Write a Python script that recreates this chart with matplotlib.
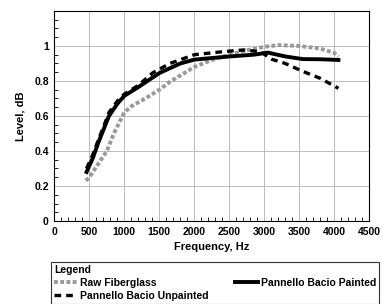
import matplotlib
matplotlib.use("Agg")
import matplotlib.pyplot as plt
from matplotlib.ticker import MultipleLocator

plt.rcParams["font.family"] = ["Liberation Sans", "DejaVu Sans"]
plt.rcParams["font.weight"] = "bold"

# Raw Fiberglass
raw_f = [450, 500, 600, 750, 850, 950, 1000, 1100, 1300, 1500, 1650, 2000, 2250,
         2500, 2750, 3000, 3200, 3500, 3800, 4000, 4060]
raw_l = [0.23, 0.25, 0.31, 0.40, 0.50, 0.58, 0.62, 0.655, 0.70, 0.75, 0.795, 0.88,
         0.92, 0.95, 0.975, 0.995, 1.005, 1.0, 0.985, 0.96, 0.94]

# Pannello Bacio Unpainted
unp_f = [460, 550, 630, 700, 780, 900, 1000, 1200, 1400, 1650, 2000, 2400, 2700,
         2950, 3100, 3300, 3550, 3800, 4060]
unp_l = [0.30, 0.38, 0.465, 0.535, 0.62, 0.685, 0.725, 0.775, 0.845, 0.90, 0.95, 0.967,
         0.977, 0.967, 0.925, 0.90, 0.855, 0.815, 0.758]

# Pannello Bacio Painted
pnt_f = [460, 550, 630, 700, 780, 900, 1000, 1200, 1500, 1800, 2000, 2500, 2850,
         3050, 3300, 3550, 3800, 4060]
pnt_l = [0.28, 0.36, 0.45, 0.52, 0.60, 0.67, 0.715, 0.765, 0.845, 0.90, 0.922, 0.94,
         0.95, 0.962, 0.94, 0.925, 0.924, 0.92]

fig = plt.figure(figsize=(3.83, 3.04), dpi=100)
ax = fig.add_axes([0.142, 0.273, 0.822, 0.691])

ax.plot(raw_f, raw_l, color="#999999", linestyle=(0, (1, 0.6)), linewidth=2.8,
        label="Raw Fiberglass")
ax.plot(unp_f, unp_l, color="black", linestyle=(0, (2, 1.5)), linewidth=2.4,
        label="Pannello Bacio Unpainted")
ax.plot(pnt_f, pnt_l, color="black", linestyle="-", linewidth=2.8,
        label="Pannello Bacio Painted")

ax.set_xlim(0, 4500)
ax.set_ylim(0, 1.2)
ax.set_xticks(range(0, 4501, 500))
ax.set_yticks([0, 0.2, 0.4, 0.6, 0.8, 1.0])
ax.set_yticklabels(["0", "0.2", "0.4", "0.6", "0.8", "1"])
ax.xaxis.set_minor_locator(MultipleLocator(100))
ax.yaxis.set_minor_locator(MultipleLocator(0.05))
ax.tick_params(which="both", direction="in", labelsize=7.5)
ax.tick_params(which="major", length=0, pad=4)
ax.tick_params(which="minor", length=3, width=0.6)
ax.grid(True, which="major", color="#bbbbbb", linewidth=0.7)
for s in ax.spines.values():
    s.set_linewidth(0.8)

ax.set_xlabel("Frequency, Hz", fontsize=8, fontweight="bold", labelpad=4)
ax.set_ylabel("Level, dB", fontsize=8, fontweight="bold", labelpad=6)

leg = fig.legend(loc="upper left", bbox_to_anchor=(0.134, -0.2, 0.856, 0.338),
                 mode="expand", ncol=2, fontsize=7.5, title="Legend",
                 title_fontproperties={"weight": "bold", "size": 7.5},
                 frameon=True, fancybox=False, edgecolor="black",
                 handlelength=2.2, handletextpad=0.3, borderpad=0.25,
                 borderaxespad=0.0, labelspacing=0.3, columnspacing=1.0)
leg._legend_box.align = "left"
leg.get_frame().set_linewidth(0.8)

fig.savefig("out.png", dpi=100)
